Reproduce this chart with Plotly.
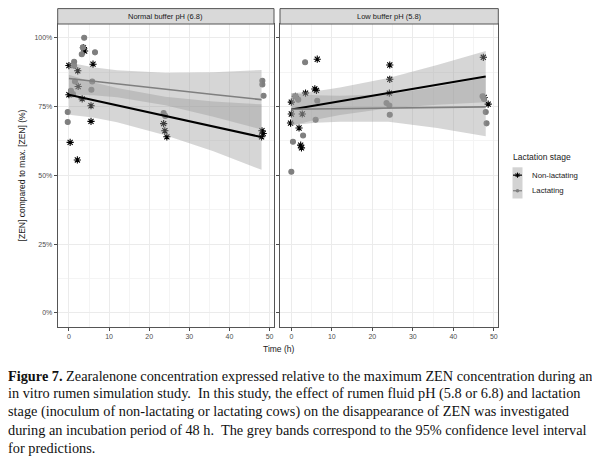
import plotly.graph_objects as go

# the page has the browser's 8px body margin, so the figure is drawn 8px in
OFF = 8
W, H = 600 - OFF, 465 - OFF

panels = ['Normal buffer pH (6.8)', 'Low buffer pH (5.8)']
groups = ['Non-lactating', 'Lactating']

norm_nonlact_t = [0.0, 0.3, 2.1, 3.6, 3.9, 2.2, 0.0, 3.3, 6.0, 5.5, 5.5, 2.3, 23.6, 23.9, 24.4, 48.1, 48.4, 48.0]
norm_nonlact_y = [89.9, 62.0, 55.6, 96.4, 95.2, 88.0, 79.3, 77.8, 90.4, 75.3, 69.6, 82.3, 68.8, 66.2, 64.0, 66.2, 65.2, 64.0]
norm_lact_t = [-0.3, -0.3, 1.3, 1.3, 1.5, 0.5, 1.0, 3.8, 3.2, 3.5, 6.5, 5.8, 5.6, 23.6, 24.0, 48.2, 48.2, 48.5]
norm_lact_y = [73.0, 69.4, 91.3, 89.8, 84.1, 80.7, 79.5, 100.0, 94.0, 96.5, 94.7, 84.1, 81.1, 72.6, 71.6, 84.4, 83.0, 78.9]

low_nonlact_t = [6.4, 24.3, 24.3, 24.2, 47.4, 3.5, 5.8, 6.2, 0.0, 0.0, -0.2, 1.9, 2.5, 2.3, 48.6, 47.6, 2.7, 1.0]
low_nonlact_y = [92.2, 90.1, 84.9, 79.9, 92.9, 79.9, 81.4, 80.9, 76.6, 72.3, 69.0, 67.2, 60.0, 61.0, 75.9, 78.3, 72.3, 78.7]
low_lact_t = [3.4, 0.4, 2.9, 0.0, 6.0, 6.4, 1.7, 1.0, 23.5, 24.2, 24.3, 47.2, 47.6, 48.0, 48.2]
low_lact_y = [91.1, 62.2, 64.5, 51.3, 70.2, 77.1, 77.5, 78.7, 76.3, 75.4, 72.0, 78.7, 77.7, 73.0, 68.9]

# ---- fitted lines and 95% bands, read at these times ----
fit_t = [0, 6, 12, 24, 36, 48]
norm_nonlact_fit = [79.3, 77.4, 75.5, 71.6, 67.8, 63.9]
norm_nonlact_lo = [72.0, 71.0, 69.3, 64.6, 58.8, 52.0]
norm_nonlact_hi = [86.6, 83.8, 81.7, 78.6, 76.8, 75.8]
norm_lact_fit = [85.2, 84.2, 83.3, 81.4, 79.4, 77.5]
norm_lact_lo = [79.4, 79.1, 78.4, 75.5, 71.3, 66.7]
norm_lact_hi = [91.0, 89.3, 88.2, 87.3, 87.5, 88.3]
low_nonlact_fit = [73.9, 75.4, 76.9, 79.9, 82.9, 85.9]
low_nonlact_lo = [68.0, 70.2, 71.9, 74.4, 75.7, 76.6]
low_nonlact_hi = [79.8, 80.6, 81.9, 85.4, 90.1, 95.2]
low_lact_fit = [74.0, 74.1, 74.2, 74.5, 74.7, 74.9]
low_lact_lo = [68.2, 69.1, 69.5, 69.5, 67.2, 64.2]
low_lact_hi = [79.8, 79.1, 78.9, 79.5, 82.2, 85.6]

x_ticks = [0, 10, 20, 30, 40, 50]
y_ticks = [0, 25, 50, 75, 100]
y_ticklabels = ['0%', '25%', '50%', '75%', '100%']

caption = [
    '<b>Figure 7.</b> Zearalenone concentration expressed relative to the maximum ZEN concentration during an',
    'in vitro rumen simulation study.  In this study, the effect of rumen fluid pH (5.8 or 6.8) and lactation',
    'stage (inoculum of non-lactating or lactating cows) on the disappearance of ZEN was investigated',
    'during an incubation period of 48 h.  The grey bands correspond to the 95% confidence level interval',
    'for predictions.',
]

BLACK = '#000000'
GREY = '#7f7f7f'
BAND = 'rgba(153,153,153,0.4)'
SANS = 'Liberation Sans, Arial, sans-serif'
SERIF = 'Liberation Serif, DejaVu Serif, serif'


# page pixels -> paper coordinates
def px_x(p):
    return (p - OFF) / W


def px_y(p):
    return 1 - (p - OFF) / H


panel_px = [(57.7, 274.0), (280.0, 498.3)]
panel_top, panel_bot, strip_top = 24.0, 326.7, 8.6

series = [
    # panel, colour, symbol, size, points t, points y, fit, lo, hi, line width
    (0, BLACK, 'asterisk-open', 6, norm_nonlact_t, norm_nonlact_y, norm_nonlact_fit, norm_nonlact_lo, norm_nonlact_hi, 2.0),
    (0, GREY, 'circle', 5, norm_lact_t, norm_lact_y, norm_lact_fit, norm_lact_lo, norm_lact_hi, 1.6),
    (1, BLACK, 'asterisk-open', 6, low_nonlact_t, low_nonlact_y, low_nonlact_fit, low_nonlact_lo, low_nonlact_hi, 2.0),
    (1, GREY, 'circle', 5, low_lact_t, low_lact_y, low_lact_fit, low_lact_lo, low_lact_hi, 1.6),
]

fig = go.Figure()

# points go first, the smooth ribbons sit on top of them (as in ggplot)
for p, col, sym, size, pt, py_, fit, lo, hi, lw in series:
    xa, ya = ('x', 'y') if p == 0 else ('x2', 'y2')
    fig.add_trace(go.Scatter(
        x=pt, y=py_, mode='markers', xaxis=xa, yaxis=ya, showlegend=False,
        marker=dict(symbol=sym, size=size, color=col, line=dict(color=col, width=1.1)),
        hoverinfo='skip',
    ))

for p, col, sym, size, pt, py_, fit, lo, hi, lw in series:
    xa, ya = ('x', 'y') if p == 0 else ('x2', 'y2')
    fig.add_trace(go.Scatter(
        x=fit_t + fit_t[::-1], y=hi + lo[::-1], mode='lines', fill='toself',
        fillcolor=BAND, line=dict(width=0), xaxis=xa, yaxis=ya,
        showlegend=False, hoverinfo='skip',
    ))

for p, col, sym, size, pt, py_, fit, lo, hi, lw in series:
    xa, ya = ('x', 'y') if p == 0 else ('x2', 'y2')
    fig.add_trace(go.Scatter(
        x=fit_t, y=fit, mode='lines', line=dict(color=col, width=lw),
        xaxis=xa, yaxis=ya, showlegend=False, hoverinfo='skip',
    ))

axis_common = dict(
    range=[-2.8, 51.1], tickvals=x_ticks, ticks='outside', ticklen=3,
    tickcolor='#4d4d4d', tickfont=dict(size=7, color='#4d4d4d', family=SANS),
    showgrid=True, gridcolor='#ebebeb', gridwidth=0.8, zeroline=False,
    showline=True, mirror=True, linecolor='#555555', linewidth=1,
    minor=dict(dtick=5, showgrid=True, gridcolor='#f4f4f4', gridwidth=0.5, tick0=5),
    automargin=False, fixedrange=True,
)
yaxis_common = dict(
    range=[-5, 105], tickvals=y_ticks, ticktext=y_ticklabels, ticks='outside', ticklen=3,
    tickcolor='#4d4d4d', tickfont=dict(size=7, color='#4d4d4d', family=SANS),
    showgrid=True, gridcolor='#ebebeb', gridwidth=0.8, zeroline=False,
    showline=True, mirror=True, linecolor='#555555', linewidth=1,
    minor=dict(dtick=12.5, tick0=12.5, showgrid=True, gridcolor='#f4f4f4', gridwidth=0.5),
    domain=[px_y(panel_bot), px_y(panel_top)], automargin=False, fixedrange=True,
)

shapes = []
annotations = []
for i, (a, b) in enumerate(panel_px):
    shapes.append(dict(
        type='rect', xref='paper', yref='paper',
        x0=px_x(a), x1=px_x(b), y0=px_y(panel_top), y1=px_y(strip_top),
        fillcolor='#d9d9d9', line=dict(color='#555555', width=1),
    ))
    annotations.append(dict(
        text=panels[i], xref='paper', yref='paper', x=px_x((a + b) / 2),
        y=px_y((panel_top + strip_top) / 2), showarrow=False,
        xanchor='center', yanchor='middle',
        font=dict(size=7.5, color='#1a1a1a', family=SANS),
    ))

# ---- legend drawn by hand (ggplot style keys with grey fill) ----
key_x0, key_x1 = 512.5, 522.5
key_rows = [(167.3, 183.0), (183.0, 198.5)]
key_cols = [BLACK, GREY]
annotations.append(dict(
    text='Lactation stage', xref='paper', yref='paper', x=px_x(511), y=px_y(157.5),
    showarrow=False, xanchor='left', yanchor='middle',
    font=dict(size=8.5, color='#1a1a1a', family=SANS),
))
for k, (r0, r1) in enumerate(key_rows):
    cy = (r0 + r1) / 2
    cx = (key_x0 + key_x1) / 2
    shapes.append(dict(
        type='rect', xref='paper', yref='paper',
        x0=px_x(key_x0), x1=px_x(key_x1), y0=px_y(r1), y1=px_y(r0),
        fillcolor='#d3d3d3', line=dict(width=0),
    ))
    shapes.append(dict(
        type='line', xref='paper', yref='paper',
        x0=px_x(key_x0 + 0.5), x1=px_x(key_x1 - 0.5), y0=px_y(cy), y1=px_y(cy),
        line=dict(color=key_cols[k], width=1.2),
    ))
    if k == 0:
        r = 2.6
        d = r * 0.72
        path = (f'M {px_x(cx - r)},{px_y(cy)} L {px_x(cx + r)},{px_y(cy)} '
                f'M {px_x(cx)},{px_y(cy - r)} L {px_x(cx)},{px_y(cy + r)} '
                f'M {px_x(cx - d)},{px_y(cy - d)} L {px_x(cx + d)},{px_y(cy + d)} '
                f'M {px_x(cx - d)},{px_y(cy + d)} L {px_x(cx + d)},{px_y(cy - d)}')
        shapes.append(dict(type='path', xref='paper', yref='paper', path=path,
                           line=dict(color=BLACK, width=1)))
    else:
        r = 1.8
        shapes.append(dict(
            type='circle', xref='paper', yref='paper',
            x0=px_x(cx - r), x1=px_x(cx + r), y0=px_y(cy + r), y1=px_y(cy - r),
            fillcolor=GREY, line=dict(width=0),
        ))
    annotations.append(dict(
        text=groups[k], xref='paper', yref='paper', x=px_x(530), y=px_y(cy),
        showarrow=False, xanchor='left', yanchor='middle',
        font=dict(size=7.8, color='#1a1a1a', family=SANS),
    ))

annotations.append(dict(
    text='[ZEN] compared to max. [ZEN] (%)', xref='paper', yref='paper',
    x=px_x(22), y=px_y((panel_top + panel_bot) / 2), textangle=-90, showarrow=False,
    xanchor='center', yanchor='middle', font=dict(size=8.5, color='#1a1a1a', family=SANS),
))
annotations.append(dict(
    text='Time (h)', xref='paper', yref='paper',
    x=px_x((panel_px[0][0] + panel_px[1][1]) / 2), y=px_y(349), showarrow=False,
    xanchor='center', yanchor='middle', font=dict(size=8.5, color='#1a1a1a', family=SANS),
))
for j, line in enumerate(caption):
    annotations.append(dict(
        text=line, xref='paper', yref='paper', x=0, xshift=-2, y=px_y(375.5 + 18.1 * j),
        showarrow=False, xanchor='left', yanchor='middle', align='left',
        font=dict(size=14.3, color='#111111', family=SERIF),
    ))

fig.update_layout(
    width=W, height=H,
    margin=dict(l=0, r=0, t=0, b=0),
    paper_bgcolor='white', plot_bgcolor='white',
    showlegend=False,
    xaxis=dict(axis_common, domain=[px_x(panel_px[0][0]), px_x(panel_px[0][1])], anchor='y'),
    xaxis2=dict(axis_common, domain=[px_x(panel_px[1][0]), px_x(panel_px[1][1])], anchor='y2'),
    yaxis=dict(yaxis_common, anchor='x'),
    yaxis2=dict(yaxis_common, anchor='x2', showticklabels=False),
    shapes=shapes,
    annotations=annotations,
)

fig.write_html('out.html')
